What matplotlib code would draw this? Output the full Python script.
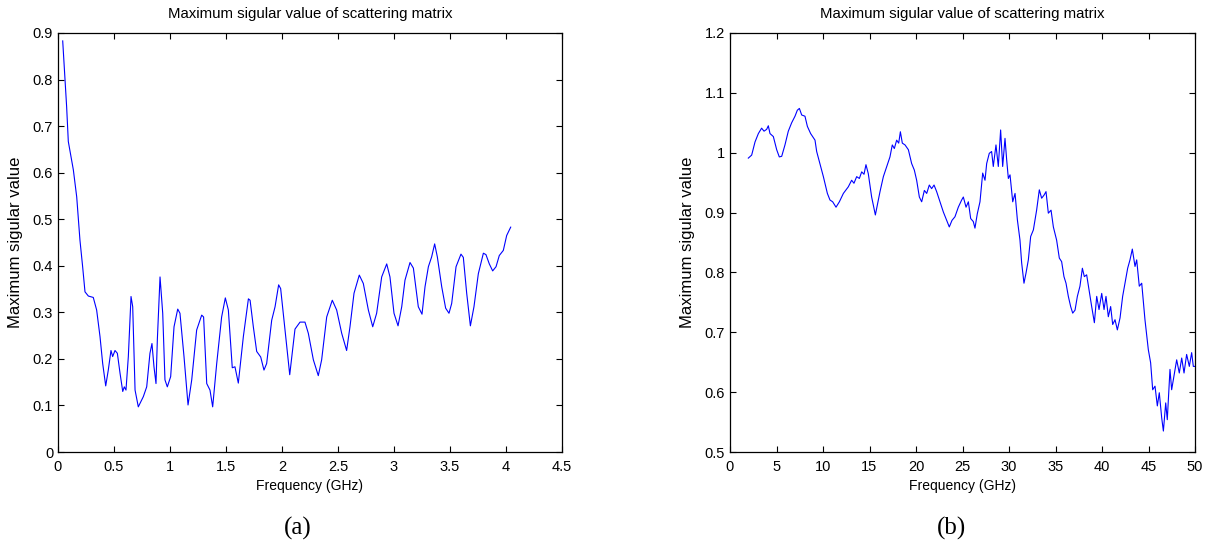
import matplotlib
matplotlib.use("Agg")
import matplotlib.pyplot as plt
import numpy as np

plt.rcParams['font.family'] = ['Liberation Sans', 'DejaVu Sans']

# ---- Data: panel (a) ----
freq_a = [0.042, 0.0625, 0.077, 0.092, 0.137, 0.167, 0.196, 0.22, 0.241, 0.271, 0.315, 0.345,
          0.375, 0.399, 0.426, 0.449, 0.473, 0.488, 0.509, 0.53, 0.554, 0.578, 0.592, 0.607,
          0.628, 0.652, 0.667, 0.688, 0.717, 0.762, 0.792, 0.821, 0.839, 0.857, 0.875, 0.887,
          0.911, 0.935, 0.955, 0.976, 1.006, 1.036, 1.069, 1.089, 1.125, 1.161, 1.194, 1.238,
          1.283, 1.30, 1.328, 1.357, 1.381, 1.417, 1.461, 1.494, 1.521, 1.556, 1.58, 1.61,
          1.655, 1.70, 1.715, 1.744, 1.774, 1.81, 1.839, 1.863, 1.908, 1.938, 1.97, 1.988,
          2.027, 2.069, 2.116, 2.161, 2.205, 2.235, 2.28, 2.324, 2.354, 2.399, 2.449, 2.488,
          2.533, 2.577, 2.607, 2.643, 2.69, 2.726, 2.771, 2.81, 2.845, 2.89, 2.935, 2.964,
          3.0, 3.036, 3.069, 3.098, 3.143, 3.173, 3.217, 3.25, 3.277, 3.307, 3.336, 3.363,
          3.387, 3.426, 3.461, 3.491, 3.515, 3.554, 3.598, 3.619, 3.649, 3.682, 3.714, 3.753,
          3.798, 3.821, 3.851, 3.881, 3.911, 3.94, 3.976, 4.006, 4.042]
sv_a = [0.883, 0.799, 0.742, 0.667, 0.606, 0.548, 0.455, 0.398, 0.344, 0.335, 0.332, 0.305,
        0.248, 0.19, 0.142, 0.176, 0.218, 0.205, 0.218, 0.212, 0.169, 0.13, 0.14, 0.133,
        0.205, 0.334, 0.312, 0.133, 0.097, 0.119, 0.14, 0.212, 0.233, 0.183, 0.147, 0.241,
        0.376, 0.298, 0.155, 0.14, 0.162, 0.269, 0.307, 0.298, 0.205, 0.101, 0.155, 0.262,
        0.294, 0.29, 0.147, 0.133, 0.097, 0.19, 0.29, 0.331, 0.305, 0.181, 0.183, 0.148,
        0.248, 0.329, 0.326, 0.269, 0.216, 0.204, 0.176, 0.19, 0.283, 0.312, 0.359, 0.351,
        0.262, 0.166, 0.264, 0.279, 0.279, 0.255, 0.198, 0.164, 0.198, 0.29, 0.326, 0.305,
        0.255, 0.218, 0.269, 0.341, 0.380, 0.362, 0.305, 0.269, 0.298, 0.376, 0.404, 0.376,
        0.298, 0.271, 0.312, 0.369, 0.407, 0.395, 0.312, 0.296, 0.355, 0.398, 0.419, 0.447,
        0.419, 0.355, 0.309, 0.298, 0.319, 0.398, 0.425, 0.418, 0.341, 0.271, 0.312, 0.383,
        0.427, 0.424, 0.404, 0.389, 0.398, 0.422, 0.433, 0.465, 0.483]

# ---- Data: panel (b) ----
freq_b = [1.97, 2.33, 2.69, 3.05, 3.4, 3.66, 3.94, 4.12, 4.3, 4.66, 5.02, 5.3, 5.56, 5.91,
          6.27, 6.63, 6.99, 7.24, 7.46, 7.71, 8.06, 8.32, 8.67, 9.14, 9.32, 9.75, 10.04,
          10.47, 10.75, 11.04, 11.4, 11.76, 12.19, 12.72, 13.08, 13.33, 13.62, 13.91, 14.16,
          14.41, 14.62, 14.87, 15.23, 15.48, 15.63, 15.84, 16.13, 16.49, 16.85, 17.2, 17.45,
          17.67, 17.92, 18.14, 18.32, 18.53, 18.82, 19.18, 19.53, 19.82, 20.07, 20.36, 20.61,
          20.9, 21.15, 21.43, 21.68, 21.94, 22.22, 22.58, 22.94, 23.3, 23.58, 23.87, 24.19,
          24.55, 24.91, 25.09, 25.38, 25.63, 25.88, 26.16, 26.34, 26.59, 26.88, 27.17, 27.42,
          27.6, 27.88, 28.13, 28.31, 28.6, 28.85, 29.1, 29.32, 29.57, 29.75, 29.93, 30.11,
          30.4, 30.65, 30.9, 31.18, 31.36, 31.61, 31.83, 32.08, 32.33, 32.62, 32.97, 33.26,
          33.51, 33.76, 33.98, 34.23, 34.52, 34.77, 35.12, 35.41, 35.66, 35.91, 36.13, 36.38,
          36.63, 36.85, 37.1, 37.35, 37.63, 37.89, 38.1, 38.35, 38.6, 38.89, 39.18, 39.43,
          39.68, 39.97, 40.22, 40.43, 40.68, 40.93, 41.15, 41.4, 41.65, 41.94, 42.22, 42.47,
          42.76, 43.01, 43.26, 43.55, 43.73, 44.01, 44.27, 44.62, 44.98, 45.23, 45.45, 45.7,
          45.95, 46.16, 46.42, 46.6, 46.85, 47.02, 47.31, 47.49, 47.74, 48.03, 48.31, 48.57,
          48.82, 49.1, 49.39, 49.64, 49.82, 50.0]
sv_b = [0.991, 0.996, 1.018, 1.032, 1.041, 1.036, 1.039, 1.045, 1.032, 1.027, 1.005, 0.993,
        0.994, 1.013, 1.036, 1.05, 1.061, 1.071, 1.074, 1.063, 1.061, 1.044, 1.032, 1.021,
        1.002, 0.977, 0.96, 0.932, 0.921, 0.918, 0.909, 0.918, 0.932, 0.943, 0.954, 0.949,
        0.96, 0.957, 0.968, 0.964, 0.98, 0.965, 0.926, 0.907, 0.896, 0.912, 0.935, 0.96,
        0.977, 0.993, 1.013, 1.007, 1.021, 1.016, 1.035, 1.016, 1.013, 1.005, 0.982, 0.971,
        0.954, 0.926, 0.918, 0.937, 0.932, 0.946, 0.94, 0.946, 0.935, 0.918, 0.901, 0.887,
        0.876, 0.887, 0.893, 0.909, 0.921, 0.926, 0.909, 0.918, 0.89, 0.885, 0.874, 0.898,
        0.918, 0.966, 0.954, 0.982, 0.999, 1.002, 0.977, 1.013, 0.977, 1.038, 0.977, 1.024,
        0.988, 0.957, 0.963, 0.918, 0.932, 0.888, 0.854, 0.816, 0.782, 0.799, 0.821, 0.86,
        0.871, 0.904, 0.938, 0.924, 0.929, 0.935, 0.899, 0.904, 0.876, 0.854, 0.824, 0.818,
        0.793, 0.782, 0.76, 0.743, 0.732, 0.737, 0.76, 0.777, 0.807, 0.793, 0.796, 0.771,
        0.743, 0.716, 0.76, 0.738, 0.765, 0.738, 0.76, 0.726, 0.743, 0.713, 0.721, 0.704,
        0.724, 0.76, 0.782, 0.807, 0.821, 0.839, 0.81, 0.821, 0.777, 0.782, 0.721, 0.671,
        0.649, 0.604, 0.61, 0.577, 0.599, 0.557, 0.535, 0.582, 0.554, 0.638, 0.604, 0.627,
        0.654, 0.632, 0.657, 0.632, 0.663, 0.643, 0.666, 0.643, 0.643]

xticks_a = [0, 0.5, 1, 1.5, 2, 2.5, 3, 3.5, 4, 4.5]
xticklabels_a = ['0', '0.5', '1', '1.5', '2', '2.5', '3', '3.5', '4', '4.5']
yticks_a = [0, 0.1, 0.2, 0.3, 0.4, 0.5, 0.6, 0.7, 0.8, 0.9]
yticklabels_a = ['0', '0.1', '0.2', '0.3', '0.4', '0.5', '0.6', '0.7', '0.8', '0.9']
xticks_b = [0, 5, 10, 15, 20, 25, 30, 35, 40, 45, 50]
xticklabels_b = ['0', '5', '10', '15', '20', '25', '30', '35', '40', '45', '50']
yticks_b = [0.5, 0.6, 0.7, 0.8, 0.9, 1.0, 1.1, 1.2]
yticklabels_b = ['0.5', '0.6', '0.7', '0.8', '0.9', '1', '1.1', '1.2']

title = 'Maximum sigular value of scattering matrix'
xlabel_a = 'Frequency (GHz)'
xlabel_b = 'Frequency (GHz)'
ylabel = 'Maximum sigular value'

W, H = 1213, 548
fig = plt.figure(figsize=(W / 100, H / 100), dpi=100)

def make_axes(x0, x1, y0, y1):
    return fig.add_axes([x0 / W, 1 - y1 / H, (x1 - x0) / W, (y1 - y0) / H])

ax1 = make_axes(58, 562, 33, 452)
ax2 = make_axes(730, 1195, 33, 452)

def style(ax, xt, xtl, yt, ytl, xlim, ylim, xl):
    ax.set_xlim(*xlim)
    ax.set_ylim(*ylim)
    ax.set_xticks(xt)
    ax.set_xticklabels(xtl)
    ax.set_yticks(yt)
    ax.set_yticklabels(ytl)
    ax.tick_params(direction='in', length=4, width=0.8, top=True, right=True,
                   labelsize=10.5, colors='black')
    ax.tick_params(axis='x', pad=5.5)
    ax.tick_params(axis='y', pad=3.5)
    for s in ax.spines.values():
        s.set_linewidth(0.9)
        s.set_color('black')
    ax.set_title(title, fontsize=10.8, pad=11)
    ax.set_xlabel(xl, fontsize=10, labelpad=4)
    ax.set_ylabel(ylabel, fontsize=12, labelpad=7)

ax1.plot(freq_a, sv_a, color=(0, 0, 1), linewidth=0.8)
style(ax1, xticks_a, xticklabels_a, yticks_a, yticklabels_a, (0, 4.5), (0, 0.9), xlabel_a)

ax2.plot(freq_b, sv_b, color=(0, 0, 1), linewidth=0.8)
style(ax2, xticks_b, xticklabels_b, yticks_b, yticklabels_b, (0, 50), (0.5, 1.2), xlabel_b)

fig.text(298 / W, 1 - 528 / H, '(a)', ha='center', va='center', fontsize=18,
         family=['Liberation Serif', 'DejaVu Serif'])
fig.text(951 / W, 1 - 528 / H, '(b)', ha='center', va='center', fontsize=18,
         family=['Liberation Serif', 'DejaVu Serif'])

fig.savefig('out.png', dpi=100)
